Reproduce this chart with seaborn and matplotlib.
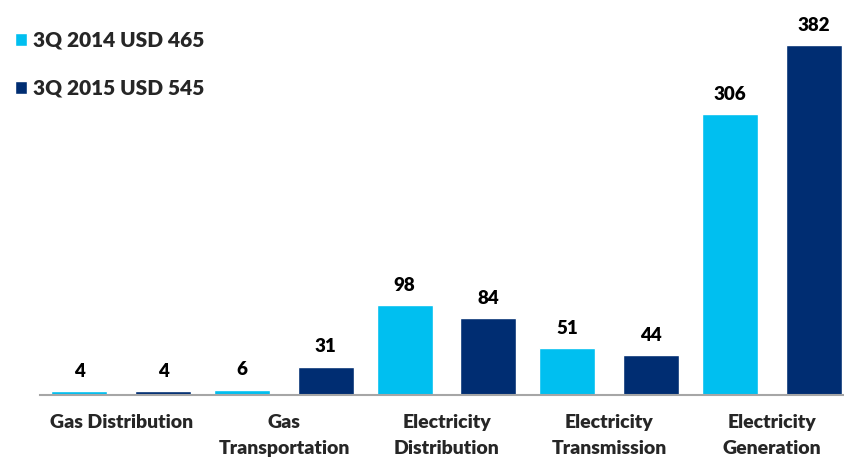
import matplotlib
matplotlib.use("Agg")
import matplotlib.pyplot as plt
import seaborn as sns
import pandas as pd

categories = ["Gas Distribution", "Gas\nTransportation", "Electricity\nDistribution",
              "Electricity\nTransmission", "Electricity\nGeneration"]
series_names = ["3Q 2014 USD 465", "3Q 2015 USD 545"]
values_2014 = [4, 6, 98, 51, 306]
values_2015 = [4, 31, 84, 44, 382]

df = pd.DataFrame({
    "category": categories * 2,
    "series": [series_names[0]] * 5 + [series_names[1]] * 5,
    "value": values_2014 + values_2015,
})

sns.set_style("white")
plt.rcParams["font.family"] = ["Lato", "DejaVu Sans"]

fig = plt.figure(figsize=(8.45, 4.62), dpi=100)
ax = fig.add_axes([40 / 845, 67 / 462, 1 - 40 / 845, (462 - 67 - 10) / 462])

palette = ["#00BFF0", "#002D72"]
sns.barplot(data=df, x="category", y="value", hue="series", order=categories,
            hue_order=series_names, palette=palette, width=1.03, gap=0.33,
            saturation=1, ax=ax, legend=True)

for cont in ax.containers:
    ax.bar_label(cont, fmt="%d", padding=8, fontsize=13.5, fontweight="heavy", color="black")

ax.set_xlim(-0.5, 4.45)
ax.set_ylim(0, 420)
ax.set_xlabel("")
ax.set_ylabel("")
ax.set_yticks([])
ax.tick_params(axis="x", length=0, pad=14)
for lab in ax.get_xticklabels():
    lab.set_fontweight("heavy")
    lab.set_fontsize(14)
    lab.set_linespacing(1.6)
for s in ["top", "right", "left"]:
    ax.spines[s].set_visible(False)
ax.spines["bottom"].set_color("#A6A6A6")
ax.spines["bottom"].set_linewidth(1.5)

leg = ax.legend(loc="upper left", bbox_to_anchor=(0.0, 0.965), bbox_transform=fig.transFigure,
                frameon=False, prop={"weight": "heavy", "size": 15},
                handlelength=0.6, handleheight=0.6, handletextpad=0.3, labelspacing=1.4,
                borderaxespad=0.3)

fig.savefig("out.png", dpi=100)
